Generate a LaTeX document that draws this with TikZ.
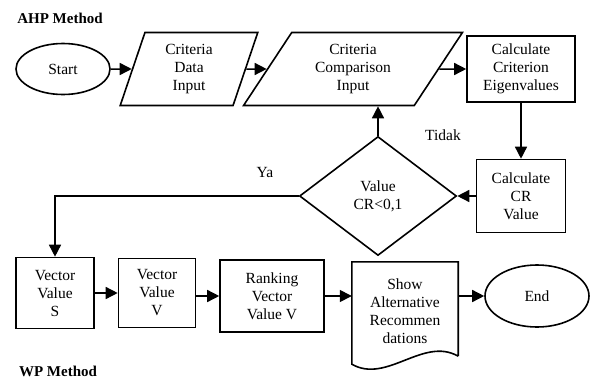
\documentclass[tikz,border=0pt]{standalone}
\usepackage{fontspec}
\setmainfont{Liberation Serif}
\usetikzlibrary{shapes.geometric, arrows.meta}
\tikzstyle{term} = [ellipse, draw=black, line width=1.6pt, inner sep=0pt, align=center]
\tikzstyle{io} = [trapezium, trapezium stretches=true, draw=black, line width=1.6pt, inner sep=0pt, align=center, minimum height=73pt]
\tikzstyle{process} = [rectangle, draw=black, line width=1.6pt, inner sep=0pt, align=center]
\tikzstyle{decision} = [diamond, draw=black, line width=1.6pt, inner sep=0pt, align=center, minimum width=157pt, minimum height=119pt]
\tikzstyle{doc} = [rectangle, inner sep=0pt, align=center, minimum width=106pt, minimum height=98pt]
\tikzstyle{note} = [inner sep=0pt]
\tikzstyle{title} = [inner sep=0pt, font=\fontsize{15}{18}\selectfont\bfseries]
\tikzstyle{arrow} = [line width=1.5pt, -{Triangle[length=12pt,width=12pt]}]

\begin{document}
\begin{tikzpicture}[x=1pt, y=1pt, font=\fontsize{15.5}{18}\selectfont]

\useasboundingbox (0,0) rectangle (590,-381);

%% TITLES

\node (ahp) [title] at (60,-18) {AHP Method};
\node (wp) [title] at (58,-371) {WP Method};

%% NODES

\node (start) [term, minimum width=94pt, minimum height=51pt] at (63,-69) {Start};
\node (cdi) [io, right of=start, node distance=126pt, trapezium left angle=75, trapezium right angle=105, minimum width=138pt] {Criteria\\Data\\Input};
\node (cci) [io, right of=cdi, node distance=164pt, trapezium left angle=59, trapezium right angle=121, minimum width=219pt] {Criteria\\Comparison\\Input};
\node (cce) [process, right of=cci, node distance=168pt, minimum width=108pt, minimum height=66pt] {Calculate\\Criterion\\Eigenvalues};
\node (cr) [process, below of=cce, node distance=127pt, minimum width=89pt, minimum height=73pt] {Calculate\\CR\\Value};
\node (dec) [decision, left of=cr, node distance=143pt] {Value\\CR<0,1};
\node (tidak) [note] at (443,-135) {Tidak};
\node (ya) [note] at (265,-172) {Ya};

\node (vs) [process, minimum width=78pt, minimum height=71pt] at (55,-293) {Vector\\Value\\S};
\node (vv) [process, right of=vs, node distance=102pt, minimum width=77pt, minimum height=69pt] {Vector\\Value\\V};
\node (rank) [process, right of=vv, node distance=115pt, minimum width=104pt, minimum height=72pt, yshift=-3pt] {Ranking\\Vector\\Value V};
\node (show) [doc, right of=rank, node distance=133pt, yshift=-15pt] {Show\\Alternative\\Recommen\\dations};
\node (end) [term, right of=show, node distance=132pt, yshift=15pt, minimum width=104pt, minimum height=62pt] {End};

% document outline
\draw [line width=1.6pt] ([yshift=4pt]show.south east) -- (show.north east) -- (show.north west) -- ([yshift=-4pt]show.south west)
  .. controls +(35,-20) and +(-35,20) .. ([yshift=4pt]show.south east);

%% ARROWS

\draw [arrow] (start) -- (cdi);
\draw [arrow] (cdi) -- (cci);
\draw [arrow] (cci) -- (cce);
\draw [arrow] (cce) -- (cr);
\draw [arrow] (cr) -- (dec);
\draw [arrow] (dec.north) -- (dec.north |- cci.south);
\draw [arrow] (dec.west) -| (vs.north);
\draw [arrow] (vs) -- (vv);
\draw [arrow] (vv.east |- rank) -- (rank);
\draw [arrow] (rank.east) -- (rank.east -| show.west);
\draw [arrow] (show.east |- end) -- (end);

\end{tikzpicture}
\end{document}
